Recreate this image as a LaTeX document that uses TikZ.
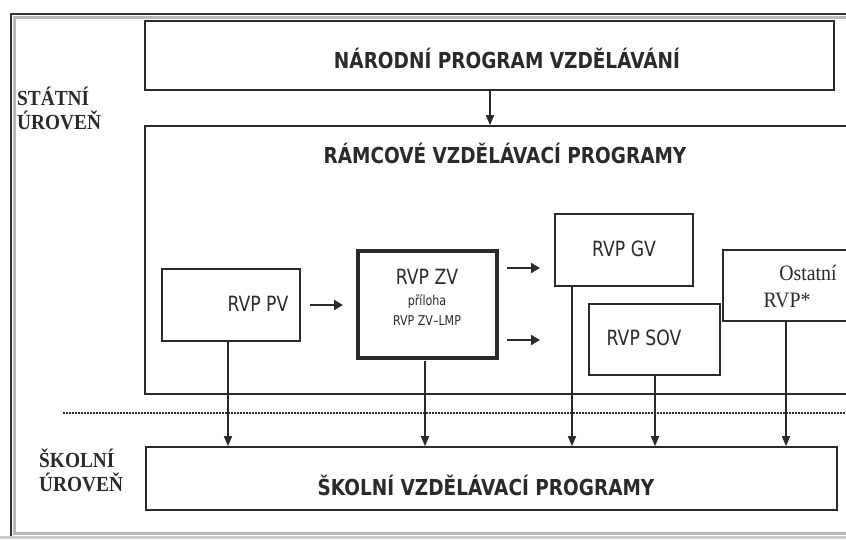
\documentclass[tikz,border=0pt]{standalone}
\usepackage{fontspec}
\setmainfont{Liberation Serif}
\newfontfamily\tah[FakeStretch=0.84]{DejaVu Sans}
\newfontfamily\tahr[FakeStretch=0.82]{DejaVu Sans}
\newfontfamily\tims[FakeStretch=0.9]{Liberation Serif}
\usetikzlibrary{arrows.meta}
\definecolor{ink}{HTML}{2A2A2A}
\tikzset{
  box/.style={draw=ink, line width=1.6pt, rectangle, inner sep=0pt},
  head/.style={text=ink, font=\tah\bfseries\fontsize{22}{26}\selectfont, inner sep=0pt},
  lbl/.style={text=ink, font=\tahr\fontsize{21}{24}\selectfont, inner sep=0pt},
  small/.style={text=ink, font=\tahr\fontsize{13.5}{16}\selectfont, inner sep=0pt},
  level/.style={text=ink, font=\tims\bfseries\fontsize{21.5}{24}\selectfont, align=left, inner sep=0pt, anchor=north west},
  serif/.style={text=ink, font=\tims\fontsize{22}{26}\selectfont, inner sep=0pt},
  thin/.style={draw=ink, line width=1.5pt, -{Triangle[length=10pt,width=8pt]}},
  thick/.style={draw=ink, line width=2.8pt, -{Triangle[length=9pt,width=10pt]}},
}
\begin{document}
\begin{tikzpicture}[x=1pt,y=-1pt]
\useasboundingbox (0,0) rectangle (846,539);
\fill[white] (0,0) rectangle (846,539);
\begin{scope}
\clip (0,0) rectangle (846,539);
% frame with shadow
\draw[gray!55, line width=3pt] (14.5,17.5) rectangle (900,533);
\draw[black!80, line width=2pt] (11,14) rectangle (900,536.5);
\draw[gray!40, line width=3pt] (0,537.5) -- (846,537.5);
% boxes
\node[box, minimum width=689pt, minimum height=69pt] (npv) at (489.5,55.5) {};
\node[box, minimum width=755pt, minimum height=268pt] (rvp) at (522.5,260) {};
\node[box, minimum width=177pt, minimum height=71pt] (ost) at (811.5,285.5) {};
\node[box, minimum width=138pt, minimum height=72pt] (pv) at (231,305) {};
\node[box, line width=3.6pt, minimum width=139pt, minimum height=107pt] (zv) at (427.5,304.5) {};
\node[box, minimum width=138pt, minimum height=72pt] (gv) at (624,250) {};
\node[box, minimum width=131pt, minimum height=71pt] (sov) at (654.5,339.5) {};
\node[box, minimum width=691pt, minimum height=63pt] (svp) at (491.5,478.5) {};
% texts
\node[head] (tnpv) at (507,58) {NÁRODNÍ PROGRAM VZDĚLÁVÁNÍ};
\node[head] (trvp) at (505,153) {RÁMCOVÉ VZDĚLÁVACÍ PROGRAMY};
\node[head] (tsvp) at (486,485) {ŠKOLNÍ VZDĚLÁVACÍ PROGRAMY};
\node[lbl] (tpv) at (258,304) {RVP PV};
\node[lbl] (tzv) at (427,277) {RVP ZV};
\node[small] (tpr) at (427,301) {příloha};
\node[small] (tlmp) at (427,321) {RVP ZV–LMP};
\node[lbl] (tgv) at (624,249) {RVP GV};
\node[lbl] (tsov) at (644,338) {RVP SOV};
\node[serif] (tost) at (808,273) {Ostatní};
\node[serif] (trvps) at (787,300) {RVP*};
\node[level] (st) at (17,87) {STÁTNÍ\\ÚROVEŇ};
\node[level] (sk) at (39,449) {ŠKOLNÍ\\ÚROVEŇ};
% dotted separator
\coordinate (d1) at (63,413);
\coordinate (d2) at (846,413);
\draw[ink, line width=2pt, dash pattern=on 1.6pt off 1.4pt] (d1) -- (d2);
% connectors
\coordinate (c0) at (490,0);
\coordinate (c1) at (228,0);
\coordinate (c2) at (425,0);
\coordinate (c3) at (572,0);
\coordinate (c4) at (655,0);
\coordinate (c5) at (786,0);
\draw[thin] (npv.south -| c0) -- (rvp.north -| c0);
\draw[thin] (pv.south -| c1) -- (svp.north -| c1);
\draw[thin] ([yshift=-1pt]zv.south -| c2) -- (svp.north -| c2);
\draw[thin] (gv.south -| c3) -- (svp.north -| c3);
\draw[thin] (sov.south -| c4) -- (svp.north -| c4);
\draw[thin] (ost.south -| c5) -- (svp.north -| c5);
\coordinate (a1) at (310,305);
\coordinate (a2) at (507,268);
\coordinate (a3) at (507,340);
\draw[thick] (a1) -- ++(33,0);
\draw[thick] (a2) -- ++(33,0);
\draw[thick] (a3) -- ++(33,0);
\end{scope}
\end{tikzpicture}
\end{document}
